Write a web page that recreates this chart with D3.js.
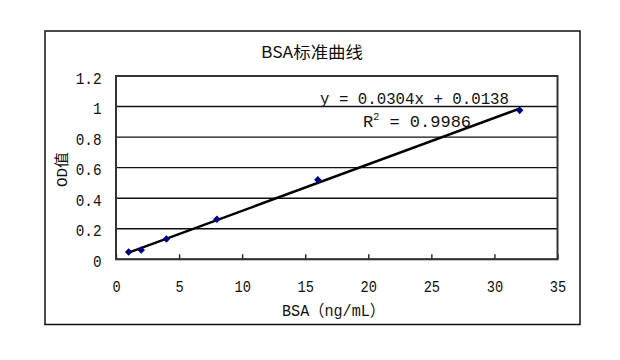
<!DOCTYPE html>
<html>
<head>
<meta charset="utf-8">
<script src="https://cdn.jsdelivr.net/npm/d3@7"></script>
<style>
  body { margin: 0; background: #fff; }
  text { fill: #111; }
</style>
</head>
<body>
<svg id="chart"></svg>
<script>
// BSA standard curve data
var bsa = [1, 2, 4, 8, 16, 32];
var od = [0.048, 0.061, 0.133, 0.262, 0.521, 0.975];
var xTicks = [0, 5, 10, 15, 20, 25, 30, 35];
var yTicks = [0, 0.2, 0.4, 0.6, 0.8, 1, 1.2];
var slope = 0.0304, intercept = 0.0138, r2 = 0.9986;

var W = 620, H = 360;
var margin = { top: 76, right: 62.5, bottom: 100.7, left: 116 },
    width = W - margin.left - margin.right,
    height = H - margin.top - margin.bottom;

var mono = "'Liberation Mono', 'Noto Sans CJK SC', monospace";
var cjk = "'Noto Sans CJK SC', 'Liberation Mono', sans-serif";

var svg = d3.select("#chart")
    .attr("width", W)
    .attr("height", H);

// outer chart frame
svg.append("rect")
    .attr("x", 45).attr("y", 31)
    .attr("width", 535).attr("height", 293.5)
    .attr("fill", "#fff")
    .attr("stroke", "#111")
    .attr("stroke-width", 1.5);

var g = svg.append("g")
    .attr("transform", "translate(" + margin.left + "," + margin.top + ")");

var x = d3.scaleLinear().domain([0, 35]).range([0, width]);
var y = d3.scaleLinear().domain([0, 1.2]).range([height, 0]);

// gridlines
g.selectAll(".grid")
    .data(yTicks)
    .enter().append("line")
    .attr("class", "grid")
    .attr("x1", 0).attr("x2", width)
    .attr("y1", function (d) { return y(d); })
    .attr("y2", function (d) { return y(d); })
    .attr("stroke", "#111")
    .attr("stroke-width", 1.4);

// x axis, ticks pointing inside
var xAxis = g.append("g")
    .attr("transform", "translate(0," + height + ")")
    .call(d3.axisBottom(x).tickValues(xTicks).tickSize(-5).tickPadding(21).tickFormat(d3.format("d")));
xAxis.select(".domain").remove();
xAxis.selectAll(".tick line").attr("stroke", "#222").attr("stroke-width", 1.4);
xAxis.selectAll(".tick text")
    .attr("textLength", function (d) { return String(d).length * 8.2; })
    .attr("lengthAdjust", "spacingAndGlyphs")
    .style("font-family", mono)
    .style("font-size", "16px")
    .attr("fill", "#111");

// y axis labels
var yAxis = g.append("g")
    .call(d3.axisLeft(y).tickValues(yTicks).tickSize(0).tickPadding(14.5).tickFormat(function (d) { return d3.format("")(+d.toFixed(1)); }));
yAxis.select(".domain").remove();
yAxis.selectAll(".tick text")
    .attr("dy", "0.45em")
    .attr("textLength", function () { return this.textContent.length * 8.6; })
    .attr("lengthAdjust", "spacingAndGlyphs")
    .style("font-family", mono)
    .style("font-size", "16px")
    .attr("fill", "#111");

// plot frame
g.append("rect")
    .attr("width", width).attr("height", height)
    .attr("fill", "none")
    .attr("stroke", "#333")
    .attr("stroke-width", 2);

// trendline
g.append("line")
    .attr("x1", x(d3.min(bsa))).attr("y1", y(slope * d3.min(bsa) + intercept))
    .attr("x2", x(d3.max(bsa))).attr("y2", y(slope * d3.max(bsa) + intercept))
    .attr("stroke", "#000")
    .attr("stroke-width", 2.4);

// markers
var diamond = d3.symbol().type(d3.symbolDiamond2).size(36);
g.selectAll(".dot")
    .data(bsa)
    .enter().append("path")
    .attr("class", "dot")
    .attr("d", diamond)
    .attr("transform", function (d, i) { return "translate(" + x(d) + "," + y(od[i]) + ")"; })
    .attr("fill", "#000080");

// title
svg.append("text")
    .attr("x", 312).attr("y", 57.5)
    .attr("text-anchor", "middle")
    .attr("textLength", 102).attr("lengthAdjust", "spacingAndGlyphs")
    .style("font-family", cjk)
    .style("font-size", "16px")
    .text("BSA标准曲线");

// axis titles
svg.append("text")
    .attr("x", 333.5).attr("y", 316)
    .attr("text-anchor", "middle")
    .attr("textLength", 103).attr("lengthAdjust", "spacingAndGlyphs")
    .style("font-family", mono)
    .style("font-size", "16px")
    .text("BSA（ng/mL）");

svg.append("text")
    .attr("transform", "translate(67,169.5) rotate(-90)")
    .attr("text-anchor", "middle")
    .attr("textLength", 35).attr("lengthAdjust", "spacingAndGlyphs")
    .style("font-family", mono)
    .style("font-size", "15px")
    .text("OD值");

// equation labels
svg.append("text")
    .attr("x", 320).attr("y", 104)
    .attr("textLength", 189).attr("lengthAdjust", "spacingAndGlyphs")
    .style("font-family", mono)
    .style("font-size", "17px")
    .text("y = " + slope + "x + " + intercept);

var rt = svg.append("text")
    .attr("x", 363).attr("y", 126.5)
    .style("font-family", mono)
    .style("font-size", "17px");
rt.append("tspan").text("R");
rt.append("tspan").attr("dy", -7).style("font-size", "10px").text("2");
rt.append("tspan").attr("dy", 7).text(" = " + r2);
</script>
</body>
</html>
